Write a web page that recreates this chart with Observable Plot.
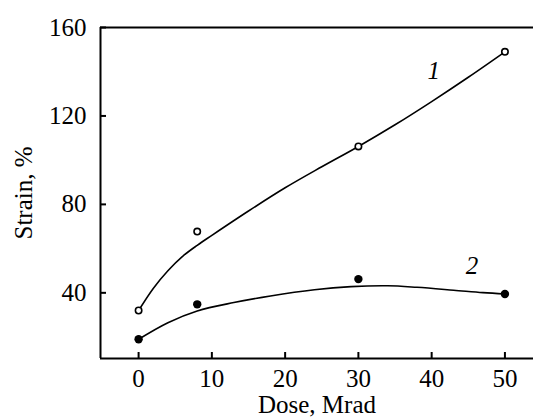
<!DOCTYPE html>
<html>
<head>
<meta charset="utf-8">
<script src="https://cdn.jsdelivr.net/npm/d3@7"></script>
<script src="https://cdn.jsdelivr.net/npm/@observablehq/plot@0.6"></script>
<style>
  html, body { margin: 0; padding: 0; background: #fff; }
  svg { font-family: "Liberation Serif", "Times New Roman", serif; }
  svg text { font-size: 25px !important; font-family: "Liberation Serif", "Times New Roman", serif !important; }
</style>
</head>
<body>
<div id="chart"></div>
<script>
// Measured points
const dose = [0, 8, 30, 50];
const strain1 = [32, 67.7, 106.2, 149];   // curve 1, open circles
const strain2 = [19, 34.8, 46.2, 39.5];   // curve 2, filled circles

// Smooth fitted curves
const fit1X = [0, 2, 4, 6, 8, 10, 15, 20, 25, 30, 35, 40, 45, 50];
const fit1Y = [32, 42, 50, 56.5, 61.5, 66, 77, 87.5, 97, 106.2, 116, 126.5, 137.5, 149];
const fit2X = [0, 4, 8, 13, 18, 24, 29, 34, 38, 43, 47, 50];
const fit2Y = [19, 26.5, 31.8, 35.6, 38.6, 41.4, 42.8, 43.2, 42.5, 41.2, 40.1, 39.5];

// Curve labels
const curveLabels = ["1", "2"];
const labelX = [40.3, 45.5];
const labelY = [140.5, 52.2];

const xTicks = [0, 10, 20, 30, 40, 50];
const yTicks = [40, 80, 120, 160];

const pts1 = dose.map((d, i) => ({x: d, y: strain1[i]}));
const pts2 = dose.map((d, i) => ({x: d, y: strain2[i]}));
const f1 = fit1X.map((d, i) => ({x: d, y: fit1Y[i]}));
const f2 = fit2X.map((d, i) => ({x: d, y: fit2Y[i]}));
const labs = curveLabels.map((t, i) => ({t, x: labelX[i], y: labelY[i]}));

const chart = Plot.plot({
  width: 533,
  height: 419,
  marginLeft: 100,
  marginRight: 0,
  marginTop: 27,
  marginBottom: 61,
  style: {fontFamily: "Liberation Serif, Times New Roman, serif", fontSize: "25px", background: "#fff", color: "#000"},
  x: {domain: [-5.2, 53.9]},
  y: {domain: [10.3, 160]},
  marks: [
    // frame: left, bottom, top
    Plot.ruleX([-5.2], {stroke: "#000", strokeWidth: 2}),
    Plot.ruleY([10.3], {stroke: "#000", strokeWidth: 2}),
    Plot.ruleY([160], {stroke: "#000", strokeWidth: 2}),
    // inward ticks
    Plot.axisX({ticks: xTicks, tickSize: 6, dy: -6, text: null, label: null, strokeWidth: 2}),
    Plot.axisY({ticks: yTicks, tickSize: 6, dx: 6, text: null, label: null, strokeWidth: 2}),
    // tick labels + axis labels
    Plot.axisX({ticks: xTicks, tickSize: 0, tickPadding: 11, fontSize: 25,
      label: "Dose, Mrad", labelAnchor: "center", labelArrow: "none", labelOffset: 54}),
    Plot.axisY({ticks: yTicks, tickSize: 0, tickPadding: 14, fontSize: 25,
      label: "Strain, %", labelAnchor: "center", labelArrow: "none", labelOffset: 86}),
    // curves
    Plot.line(f1, {x: "x", y: "y", curve: "catmull-rom", stroke: "#000", strokeWidth: 1.6}),
    Plot.line(f2, {x: "x", y: "y", curve: "catmull-rom", stroke: "#000", strokeWidth: 1.6}),
    // points
    Plot.dot(pts1, {x: "x", y: "y", r: 3.2, stroke: "#000", strokeWidth: 1.6, fill: "#fff"}),
    Plot.dot(pts2, {x: "x", y: "y", r: 4.2, fill: "#000", stroke: "none"}),
    // curve labels
    Plot.text(labs, {x: "x", y: "y", text: "t", fontSize: 25, fontStyle: "italic", fill: "#000"})
  ]
});
document.getElementById("chart").appendChild(chart);
</script>
</body>
</html>
